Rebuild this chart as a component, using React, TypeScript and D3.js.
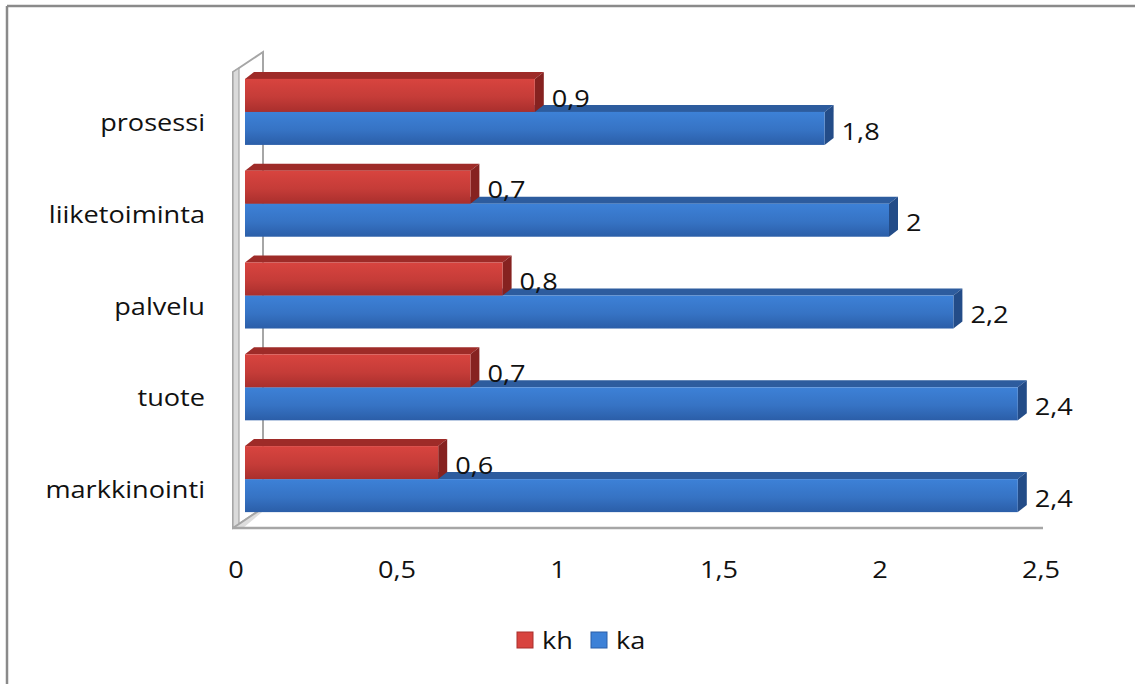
import React from "react";
import * as d3 from "d3";

// Categories listed from top to bottom of the chart
const categories = ["prosessi", "liiketoiminta", "palvelu", "tuote", "markkinointi"];
const seriesNames = ["kh", "ka"];
const khValues = [0.9, 0.7, 0.8, 0.7, 0.6];
const kaValues = [1.8, 2, 2.2, 2.4, 2.4];
const xTicks = [0, 0.5, 1, 1.5, 2, 2.5];

const W = 1135;
const H = 684;
const FONT = "'Open Sans', 'DejaVu Sans', sans-serif";
const FS = 23;
const SX = 1.18; // horizontal text stretch

// oblique 3D projection: full depth of the plot box and the bars' slice of it
const DEPTH = { dx: 30, dy: -20 };
const BAR_FRONT = { dx: 12, dy: -8 };
const BAR_DEPTH = { dx: 9, dy: -7 };

const palette = {
  kh: { top: "#d8443f", bottom: "#a92f2d", lid: "#9e2b28", side: "#862220" },
  ka: { top: "#3d81d7", bottom: "#2b5ea8", lid: "#2d5c9e", side: "#234c88" },
};

const fmt = (v: number) => String(v).replace(".", ",");

function Label({ x, y, anchor, children }: { x: number; y: number; anchor: string; children: React.ReactNode }) {
  return (
    <text
      transform={`translate(${x},${y}) scale(${SX},1)`}
      textAnchor={anchor}
      dominantBaseline="central"
      fontFamily={FONT}
      fontSize={FS}
      fill="#111"
    >
      {children}
    </text>
  );
}

export default function App() {
  const x = d3.scaleLinear().domain([0, 2.5]).range([233, 1038]);
  const yCat = d3.scaleBand<string>().domain(categories).range([74, 533]);
  const ySer = d3
    .scaleBand<string>()
    .domain(seriesNames)
    .range([0, yCat.bandwidth()])
    .paddingInner(0)
    .paddingOuter(0.39);

  const frontTop = 72;
  const frontBottom = 528;
  const x0 = x(0);

  const bars: { key: string; s: string; c: string; v: number; i: number }[] = [];
  categories.forEach((c, i) => {
    bars.push({ key: `ka-${c}`, s: "ka", c, v: kaValues[i], i });
    bars.push({ key: `kh-${c}`, s: "kh", c, v: khValues[i], i });
  });

  const pts = (arr: [number, number][]) => arr.map((p) => p.join(",")).join(" ");

  return (
    <svg
      width={W}
      height={H}
      style={{ position: "absolute", left: 0, top: 0, background: "#fff" }}
    >
      <defs>
        {seriesNames.map((s) => (
          <linearGradient key={s} id={`grad-${s}`} x1="0" y1="0" x2="0" y2="1">
            <stop offset="0" stopColor={palette[s as "kh"].top} />
            <stop offset="0.55" stopColor={d3.interpolateRgb(palette[s as "kh"].top, palette[s as "kh"].bottom)(0.4)} />
            <stop offset="1" stopColor={palette[s as "kh"].bottom} />
          </linearGradient>
        ))}
      </defs>

      {/* outer frame */}
      <line x1={7} y1={6} x2={W} y2={6} stroke="#8a8a8a" strokeWidth={2.5} />
      <line x1={7} y1={6} x2={7} y2={H} stroke="#8a8a8a" strokeWidth={2.5} />

      {/* left wall */}
      <polygon
        points={pts([
          [x0, frontTop],
          [x0 + DEPTH.dx, frontTop + DEPTH.dy],
          [x0 + DEPTH.dx, frontBottom + DEPTH.dy],
          [x0, frontBottom],
        ])}
        fill="#ffffff"
        stroke="#a6a6a6"
        strokeWidth={2}
      />
      <polygon
        points={pts([
          [x0, frontTop],
          [x0 + 6, frontTop - 4],
          [x0 + 6, frontBottom - 4],
          [x0, frontBottom],
        ])}
        fill="#dadada"
        stroke="#a6a6a6"
        strokeWidth={1.2}
      />
      {/* floor */}
      <polygon
        points={pts([
          [x0, frontBottom],
          [x0 + DEPTH.dx, frontBottom + DEPTH.dy],
          [x0 + DEPTH.dx + 4, frontBottom + DEPTH.dy],
          [x0 + 10, frontBottom],
        ])}
        fill="#dedede"
      />
      <line
        x1={x0}
        y1={frontBottom}
        x2={x0 + DEPTH.dx}
        y2={frontBottom + DEPTH.dy}
        stroke="#a6a6a6"
        strokeWidth={2}
      />
      <line
        x1={x0}
        y1={frontBottom}
        x2={x(2.5) + 5}
        y2={frontBottom}
        stroke="#a6a6a6"
        strokeWidth={2.5}
      />

      {/* bars: ka drawn first so kh sits in front of its lid */}
      {bars.map((b) => {
        const p = palette[b.s as "kh"];
        const left = x0 + BAR_FRONT.dx;
        const right = x(b.v) + BAR_FRONT.dx;
        const top = (yCat(b.c) as number) + (ySer(b.s) as number) + BAR_FRONT.dy;
        const h = ySer.bandwidth();
        const bottom = top + h;
        const { dx, dy } = BAR_DEPTH;
        return (
          <g key={b.key}>
            <polygon
              points={pts([
                [left, top],
                [left + dx, top + dy],
                [right + dx, top + dy],
                [right, top],
              ])}
              fill={p.lid}
            />
            <polygon
              points={pts([
                [right, top],
                [right + dx, top + dy],
                [right + dx, bottom + dy],
                [right, bottom],
              ])}
              fill={p.side}
            />
            <rect x={left} y={top} width={right - left} height={h} fill={`url(#grad-${b.s})`} />
            <Label x={right + dx + 8} y={top + h / 2 + 2} anchor="start">
              {fmt(b.v)}
            </Label>
          </g>
        );
      })}

      {/* category labels */}
      {categories.map((c) => (
        <Label key={c} x={205} y={(yCat(c) as number) + yCat.bandwidth() / 2 + 2} anchor="end">
          {c}
        </Label>
      ))}

      {/* value axis tick labels */}
      {xTicks.map((t) => (
        <Label key={t} x={x(t) + 3} y={569} anchor="middle">
          {fmt(t)}
        </Label>
      ))}

      {/* legend */}
      {seriesNames.map((s, i) => {
        const lx = 517 + i * 74;
        return (
          <g key={s}>
            <rect x={lx} y={632} width={16} height={16} fill={palette[s as "kh"].top} stroke={palette[s as "kh"].bottom} strokeWidth={1} />
            <Label x={lx + 25} y={640} anchor="start">
              {s}
            </Label>
          </g>
        );
      })}
    </svg>
  );
}
